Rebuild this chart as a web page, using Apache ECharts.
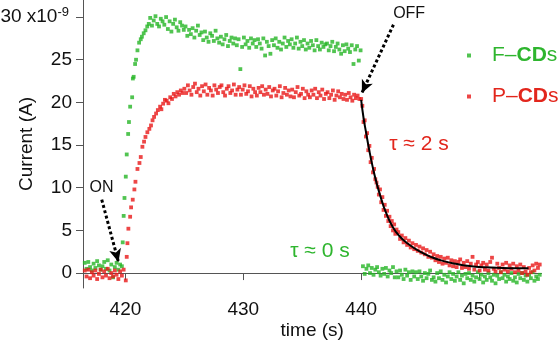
<!DOCTYPE html>
<html>
<head>
<meta charset="utf-8">
<script src="https://cdn.jsdelivr.net/npm/echarts@6/dist/echarts.min.js"></script>
<style>
  html, body { margin: 0; padding: 0; background: #fff; }
  #chart { width: 558px; height: 342px; }
</style>
</head>
<body>
<div id="chart"></div>
<script>
// current in units of 1e-9 A, time in s
const yTicks = [0, 5, 10, 15, 20, 25, 30];
const xTicks = [420, 430, 440, 450];

// F-CDs (green)
const greenPre = [1.2, 0.5, 1.3, 0.7, 0.3, 1.1, 0.6, 1.4, 0.9, 0.4, 0.8, 1.3, 0.5, 1.5, 0.3, 1.0, -0.5, 0.7, 1.2, 0.4, 1.0, 0.8];
const greenRise = [[419.77, 3.6], [419.85, 6.7], [419.92, 8.8], [420.03, 11.3], [420.11, 13.9], [420.23, 16.3],
  [420.3, 17.7], [420.4, 19.5], [420.57, 20.6], [420.63, 22.8], [420.7, 23.0], [420.82, 24.5], [420.9, 25.0],
  [421.02, 26.1], [421.16, 27.0], [421.3, 27.4], [421.4, 27.7], [421.55, 28.1], [421.7, 28.45], [421.85, 28.9], [421.98, 29.2]];
const greenPlateau = [
  29.9, 29.0, 29.6, 30.1, 29.2, 28.9, 29.8, 29.5, 29.1, 30.0,
  28.6, 29.5, 28.3, 29.2, 29.7, 28.8, 28.4, 29.4, 29.0, 28.5,
  28.9, 27.8, 28.5, 28.0, 28.7, 27.6, 28.4, 29.0, 27.9, 28.2,
  27.3, 28.3, 27.6, 27.1, 28.1, 27.8, 27.2, 28.4, 27.5, 27.0,
  27.7, 26.8, 27.4, 27.9, 26.6, 27.2, 27.6, 26.9, 27.5, 26.7,
  27.4, 23.9, 26.5, 27.6, 26.8, 27.2, 26.4, 27.5, 26.9, 27.3,
  26.5, 27.4, 26.9, 26.3, 27.5, 25.5, 27.1, 26.6, 25.7, 27.3,
  26.7, 27.5, 26.4, 27.1, 26.2, 26.9, 27.6, 26.5, 27.2, 26.8,
  27.4, 26.4, 26.9, 27.6, 26.3, 27.1, 26.6, 27.3, 26.2, 26.9,
  26.4, 27.2, 26.7, 26.1, 27.3, 26.6, 26.2, 27.0, 26.5, 26.8,
  26.9, 26.1, 26.6, 27.1, 26.0, 26.5, 26.9, 26.2, 25.7, 26.7,
  26.0, 26.8, 26.3, 25.9, 26.7, 24.5, 26.2, 26.6, 24.9, 26.1];
const greenOff = [
  0.8, -0.1, 0.5, 0.9, 0.0, 0.6, -0.2, 0.4, 0.7, 0.1,
  -0.3, 0.5, -0.1, 0.6, -0.4, 0.3, 0.0, 0.7, -0.5, 0.2,
  -0.5, 0.3, -0.2, -0.7, 0.4, -0.3, 0.1, -0.8, 0.2, -0.4,
  0.1, -0.7, 0.2, -0.4, -0.9, 0.0, -0.6, -0.1, 0.3, -0.8,
  -0.5, -1.0, 0.0, -0.6, 0.2, -0.8, -0.2, -1.1, -0.4, 0.1,
  -0.7, -0.1, -0.9, -0.4, 0.1, -0.8, -0.3, -1.2, -0.1, -0.6,
  0.0, -0.8, -0.3, -1.0, -0.5, 0.1, -0.7, -0.2, -1.1, -0.4,
  -0.8, 0.0, -0.5, -0.9, -0.2, -1.2, -0.3, -0.7, 0.1, -0.6,
  -0.2, -1.0, -0.4, -0.7, 0.0, -0.9, -0.5, -1.1, -0.1, -0.6,
  0.0, -0.8, -0.3, -1.0, -0.2, -0.6, 0.1, -0.9, -0.4, -0.7, -0.2];

// P-CDs (red)
const redPre = [0.3, -0.4, 0.4, -0.6, 0.1, -0.3, 0.3, -0.7, -0.1, 0.4, -0.5, 0.2, -0.3, 0.5, -0.6, 0.0, -0.4, 0.3, -0.2, -0.7, 0.2, -0.3, 0.4];
const redRise = [[420.03, -0.86], [420.11, 1.9], [420.17, 3.5], [420.25, 5.2], [420.4, 6.6], [420.48, 7.7], [420.62, 8.6],
  [420.76, 9.8], [420.85, 10.7], [421.02, 12.2], [421.19, 12.9], [421.3, 13.6], [421.44, 14.8], [421.58, 15.4],
  [421.7, 15.95], [421.86, 16.5], [422.03, 16.9], [422.17, 17.3], [422.3, 17.9], [422.43, 18.3], [422.6, 18.7],
  [422.75, 19.1], [422.94, 19.5], [423.05, 19.2], [423.2, 19.85], [423.35, 20.3], [423.5, 20.2], [423.65, 19.9],
  [423.8, 20.6], [423.95, 20.4], [424.1, 21.0], [424.25, 20.7], [424.4, 21.2], [424.55, 20.9], [424.7, 21.4],
  [424.85, 21.1], [425.0, 21.6]];
const redPlateau = [
  21.1, 22.0, 21.4, 20.9, 21.8, 22.2, 21.2, 21.6, 20.8, 21.9,
  21.3, 22.1, 20.9, 21.7, 21.4, 20.8, 22.0, 21.5, 21.1, 21.8,
  22.0, 21.2, 20.8, 21.6, 21.9, 21.1, 21.4, 22.1, 20.9, 21.5,
  21.8, 20.9, 21.5, 22.0, 21.0, 21.3, 21.9, 20.7, 21.6, 21.2,
  20.8, 21.7, 21.2, 21.9, 20.9, 21.5, 21.0, 21.8, 20.7, 21.4,
  21.6, 20.8, 21.3, 21.9, 20.6, 21.1, 21.7, 20.9, 21.4, 20.7,
  21.5, 20.6, 21.2, 21.8, 20.8, 21.0, 21.6, 20.5, 21.3, 20.9,
  20.6, 21.4, 20.9, 21.6, 20.5, 21.2, 20.8, 21.5, 20.4, 21.0,
  21.2, 20.5, 20.9, 21.4, 20.3, 20.8, 21.3, 20.6, 21.0, 20.4,
  20.9, 20.3, 21.1, 20.6, 20.2, 20.9, 20.5, 20.8, 20.4];
const redDecay = [20.4, 19.6, 17.7, 17.9, 16.0, 16.4, 14.4, 14.9, 13.0, 13.5, 11.8,
  12.2, 11.0, 10.6, 10.1, 9.2, 9.8, 8.3, 8.9, 7.4, 8.0,
  6.7, 7.3, 6.1, 6.6, 5.5, 6.1, 5.0, 5.7, 4.6, 5.1];
const redTail = [
  4.8, 4.0, 4.4, 3.6, 4.1, 3.3, 3.8, 3.0, 3.5, 2.8,
  3.3, 2.6, 3.1, 2.4, 2.9, 2.2, 2.7, 1.9, 2.5, 1.8,
  2.2, 1.5, 2.0, 1.3, 1.9, 1.1, 1.7, 1.2, 1.8, 0.9,
  1.5, 0.8, 1.4, 0.7, 1.3, 1.6, 0.6, 1.2, 0.7, 1.4,
  0.5, 1.1, 1.9, 0.4, 1.0, 1.3, 0.3, 0.9, 1.2, 0.4,
  1.0, 0.3, 1.3, 1.8, 0.5, 0.2, 1.1, 0.6, 0.1, 1.0,
  0.4, 1.2, 0.2, 0.9, 0.5, 1.1, 0.1, 0.8, 0.3, 1.0,
  0.0, 0.7, 0.2, -0.2, 0.6, 0.1, 0.9, 0.3, 1.1, 0.6, 1.0];

// exponential fit
const fitLine = [[440.0, 20.3], [440.2, 18.2], [440.4, 16.6], [440.7, 14.3], [441.0, 12.3], [441.3, 10.6],
  [441.7, 8.7], [442.1, 7.1], [442.6, 5.6], [443.2, 4.4], [444.0, 3.4], [445.0, 2.5], [446.0, 1.85],
  [447.0, 1.4], [448.0, 1.1], [449.0, 0.85], [450.0, 0.72], [451.0, 0.65], [452.0, 0.6], [453.0, 0.57],
  [454.0, 0.55], [454.2, 0.55]];

const GREEN = '#26b526';
const RED = '#e81818';
const GREEN_TXT = '#2eb52e';
const RED_TXT = '#e2261c';
const AXIS = '#555';

// samples taken at a fixed step from t0
function run(t0, step, vals) {
  return vals.map((v, i) => [+(t0 + i * step).toFixed(2), v]);
}

const greenData = run(416.55, 0.15, greenPre).concat(greenRise, run(422.1, 0.15, greenPlateau), run(440.15, 0.15, greenOff));
const redData = run(416.55, 0.15, redPre).concat(redRise, run(425.15, 0.15, redPlateau), run(440.0, 0.1, redDecay), run(443.15, 0.15, redTail));

const chart = echarts.init(document.getElementById('chart'), null, { renderer: 'canvas' });

const textPoint = (coord, text, color, size) => ({
  coord: coord,
  symbol: 'rect',
  symbolSize: 1,
  itemStyle: { color: 'rgba(0,0,0,0)' },
  label: { show: true, position: 'inside', formatter: text, color: color, fontSize: size }
});

const arrow = (from, to) => [{ coord: from }, { coord: to }];

const option = {
  animation: false,
  textStyle: { fontFamily: '"Liberation Sans", Arial, Helvetica, sans-serif' },
  grid: { left: 83, right: 16.5, top: 0, bottom: 54, containLabel: false, outerBoundsMode: 'none' },
  legend: {
    orient: 'vertical',
    left: 462,
    top: 40,
    itemWidth: 4,
    itemHeight: 4,
    itemGap: 20,
    icon: 'rect',
    selectedMode: false,
    data: ['F–CDs', 'P–CDs'],
    formatter: name => name[0] === 'F' ? '{sp|}{g|F–}{gb|CD}{g|s}' : '{sp|}{r|P–}{rb|CD}{r|s}',
    textStyle: {
      fontSize: 21,
      rich: {
        sp: { width: 16 },
        g: { color: GREEN_TXT, fontSize: 21 },
        gb: { color: GREEN_TXT, fontSize: 21, fontWeight: 'bold' },
        r: { color: RED_TXT, fontSize: 21 },
        rb: { color: RED_TXT, fontSize: 21, fontWeight: 'bold' }
      }
    }
  },
  xAxis: {
    type: 'value',
    min: 416.4,
    max: 455.3,
    name: 'time (s)',
    nameLocation: 'middle',
    nameGap: 33,
    nameMoveOverlap: false,
    nameTextStyle: { fontSize: 19, color: '#111' },
    axisLine: { show: true, lineStyle: { color: AXIS, width: 1 } },
    axisTick: { show: true, length: 7, lineStyle: { color: AXIS }, customValues: xTicks },
    axisLabel: { fontSize: 19, color: '#111', margin: 12, customValues: xTicks },
    splitLine: { show: false }
  },
  yAxis: {
    type: 'value',
    min: -1.75,
    max: 32,
    name: 'Current (A)',
    nameLocation: 'middle',
    nameGap: 47,
    nameMoveOverlap: false,
    nameTextStyle: { fontSize: 19, color: '#111' },
    axisLine: { show: true, lineStyle: { color: AXIS, width: 1 } },
    axisTick: { show: true, length: 7, lineStyle: { color: AXIS }, customValues: yTicks },
    axisLabel: {
      fontSize: 19,
      color: '#111',
      margin: 11,
      customValues: yTicks,
      formatter: v => v === 30 ? '{a|30 x10}{s|-9}' : String(v),
      rich: {
        a: { fontSize: 19, color: '#111' },
        s: { fontSize: 13, color: '#111', padding: [0, 3, 10, 0] }
      }
    },
    splitLine: { show: false }
  },
  series: [
    {
      name: 'F–CDs',
      type: 'scatter',
      symbol: 'rect',
      symbolSize: 3.8,
      itemStyle: { color: GREEN },
      data: greenData,
      markPoint: {
        silent: true,
        data: [textPoint([436.5, 2.6], 'τ ≈ 0 s', GREEN_TXT, 21)]
      }
    },
    {
      name: 'P–CDs',
      type: 'scatter',
      symbol: 'rect',
      symbolSize: 3.8,
      itemStyle: { color: RED },
      data: redData,
      markPoint: {
        silent: true,
        data: [textPoint([444.9, 15.1], 'τ ≈ 2 s', RED_TXT, 21)]
      }
    },
    {
      name: 'fit',
      type: 'line',
      smooth: true,
      symbol: 'none',
      lineStyle: { color: '#000', width: 2 },
      data: fitLine,
      z: 3,
      markLine: {
        silent: true,
        symbol: ['none', 'arrow'],
        symbolSize: [9, 13],
        label: { show: false },
        lineStyle: { color: '#000', width: 3, type: [3, 2.5] },
        data: [
          arrow([417.99, 8.6], [419.41, 1.3]),
          arrow([442.74, 29.1], [440.06, 21.1])
        ]
      },
      markPoint: {
        silent: true,
        data: [
          textPoint([417.97, 10.0], 'ON', '#111', 16),
          textPoint([444.07, 30.4], 'OFF', '#111', 16)
        ]
      }
    }
  ]
};

chart.setOption(option);
</script>
</body>
</html>
